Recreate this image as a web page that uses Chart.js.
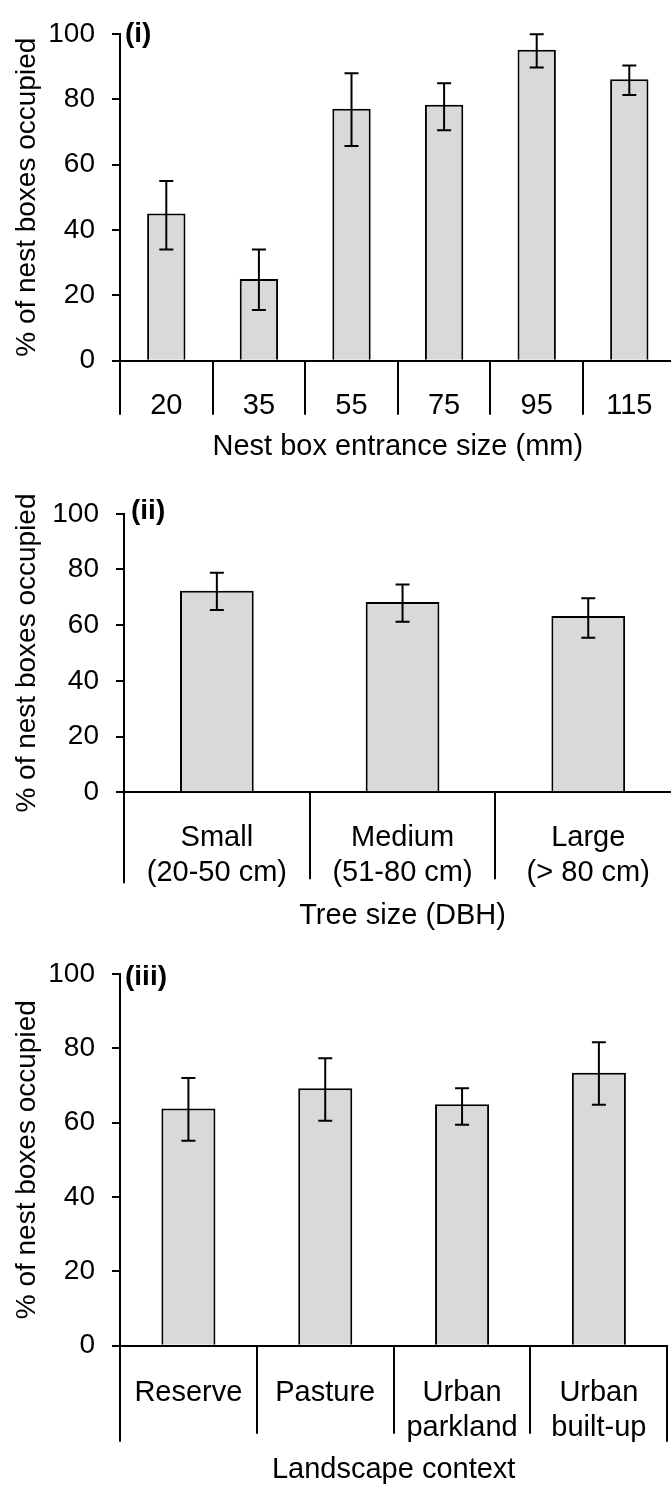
<!DOCTYPE html>
<html>
<head>
<meta charset="utf-8">
<script src="https://cdn.jsdelivr.net/npm/chart.js@4.4.1/dist/chart.umd.min.js"></script>
<style>
  html, body { margin: 0; padding: 0; background: #fff; overflow: hidden; }
  #page { position: relative; width: 671px; height: 1487px; overflow: hidden; }
  canvas { position: absolute; left: 0; }
</style>
</head>
<body>
<div id="page">
  <canvas id="entrance" width="676" height="480" style="top:0px"></canvas>
  <canvas id="tree" width="682" height="480" style="top:480px"></canvas>
  <canvas id="landscape" width="671" height="547" style="top:940px"></canvas>
</div>
<script>
// (i) nest box entrance size
const entranceSizes = ['20', '35', '55', '75', '95', '115'];
const entranceMean = [45, 25, 77.1, 78.3, 95.1, 86.1];
const entranceLow = [34, 15.5, 65.7, 70.5, 89.7, 81.3];
const entranceHigh = [55, 34, 87.9, 84.9, 99.9, 90.3];

// (ii) tree size
const treeSizes = [['Small', '(20-50 cm)'], ['Medium', '(51-80 cm)'], ['Large', '(> 80 cm)']];
const treeMean = [72.4, 68.3, 63.3];
const treeLow = [65.5, 61.2, 55.5];
const treeHigh = [78.8, 74.6, 69.7];

// (iii) landscape context
const contexts = ['Reserve', 'Pasture', ['Urban', 'parkland'], ['Urban', 'built-up']];
const contextMean = [63.8, 69.2, 64.9, 73.4];
const contextLow = [55.1, 60.5, 59.4, 64.8];
const contextHigh = [72.0, 77.3, 69.2, 81.6];

const yLabel = '% of nest boxes occupied';

Chart.defaults.font.family = "'Liberation Sans', Arial, sans-serif";
Chart.defaults.font.size = 28;
Chart.defaults.color = '#000';

// error bars, panel tag and the category dividers under the axis
const panelExtras = {
  id: 'panelExtras',
  afterDatasetsDraw(chart, args, opts) {
    const ctx = chart.ctx;
    const y = chart.scales.y;
    const meta = chart.getDatasetMeta(0);
    ctx.save();
    ctx.strokeStyle = '#000';
    ctx.lineWidth = 2;
    meta.data.forEach((bar, i) => {
      const top = y.getPixelForValue(opts.high[i]);
      const bot = y.getPixelForValue(opts.low[i]);
      ctx.beginPath();
      ctx.moveTo(bar.x, top);
      ctx.lineTo(bar.x, bot);
      ctx.moveTo(bar.x - 7, top);
      ctx.lineTo(bar.x + 7, top);
      ctx.moveTo(bar.x - 7, bot);
      ctx.lineTo(bar.x + 7, bot);
      ctx.stroke();
    });
    ctx.restore();
  },
  afterDraw(chart, args, opts) {
    const ctx = chart.ctx;
    const x = chart.scales.x;
    const area = chart.chartArea;
    const n = chart.data.labels.length;
    ctx.save();
    ctx.strokeStyle = '#000';
    ctx.lineWidth = 2;
    for (let i = 0; i <= n; i++) {
      const px = Math.round(x.getPixelForValue(i - 0.5));
      const depth = (i === 0 || i === n) ? opts.edgeDepth : opts.dividerDepth;
      ctx.beginPath();
      ctx.moveTo(px, area.bottom);
      ctx.lineTo(px, area.bottom + depth);
      ctx.stroke();
    }
    ctx.font = "bold 28px 'Liberation Sans', Arial, sans-serif";
    ctx.fillStyle = '#000';
    ctx.textAlign = 'left';
    ctx.textBaseline = 'middle';
    ctx.fillText(opts.tag, area.left + opts.tagDx, area.top + opts.tagDy);
    ctx.restore();
  }
};

function makePanel(id, labels, mean, low, high, cfg) {
  return new Chart(document.getElementById(id), {
    type: 'bar',
    data: {
      labels: labels,
      datasets: [{
        data: mean,
        backgroundColor: '#d9d9d9',
        borderColor: '#000',
        borderWidth: 2,
        barPercentage: cfg.barPct,
        categoryPercentage: 1
      }]
    },
    options: {
      responsive: false,
      animation: false,
      layout: { padding: { top: cfg.padTop, right: cfg.padRight, left: 0, bottom: 0 } },
      plugins: {
        legend: { display: false },
        tooltip: { enabled: false },
        panelExtras: {
          low: low, high: high, tag: cfg.tag,
          tagDx: cfg.tagDx, tagDy: cfg.tagDy,
          dividerDepth: cfg.dividerDepth, edgeDepth: cfg.edgeDepth
        }
      },
      scales: {
        x: {
          offset: true,
          grid: { display: false },
          border: { display: true, color: '#000', width: 2 },
          ticks: { padding: cfg.labelPad, maxRotation: 0, autoSkip: false, font: { size: 29, lineHeight: 1.2 } },
          title: {
            display: true,
            text: cfg.title,
            font: { size: 29, lineHeight: 1.2 },
            padding: { top: 0, bottom: cfg.titlePad }
          },
          afterFit: (s) => { s.height = cfg.xHeight; }
        },
        y: {
          min: 0,
          max: 100,
          grid: { display: true, drawOnChartArea: false, drawTicks: true, tickLength: 8, color: '#000', lineWidth: 2 },
          border: { display: true, color: '#000', width: 2 },
          ticks: { stepSize: 20, padding: 17, font: { size: 28 } },
          title: {
            display: true,
            text: yLabel,
            font: { size: 28, lineHeight: 1.2 },
            padding: { top: 10, bottom: 0 }
          },
          afterFit: (s) => { s.width = cfg.yWidth; }
        }
      }
    },
    plugins: [panelExtras]
  });
}

makePanel('entrance', entranceSizes, entranceMean, entranceLow, entranceHigh, {
  title: 'Nest box entrance size (mm)', tag: '(i)', tagDx: 5, tagDy: 0,
  padTop: 27.3, padRight: 0.4, yWidth: 120, xHeight: 119.3,
  barPct: 0.414, labelPad: 20.2, titlePad: 16,
  dividerDepth: 54, edgeDepth: 54
});

makePanel('tree', treeSizes, treeMean, treeLow, treeHigh, {
  title: 'Tree size (DBH)', tag: '(ii)', tagDx: 7, tagDy: -3,
  padTop: 29.3, padRight: 0.9, yWidth: 124, xHeight: 167.7,
  barPct: 0.397, labelPad: 20.3, titlePad: 26.5,
  dividerDepth: 87, edgeDepth: 91
});

makePanel('landscape', contexts, contextMean, contextLow, contextHigh, {
  title: 'Landscape context', tag: '(iii)', tagDx: 5, tagDy: 3,
  padTop: 30, padRight: 3.7, yWidth: 120, xHeight: 141.3,
  barPct: 0.395, labelPad: 21.9, titlePad: 0,
  dividerDepth: 88, edgeDepth: 96
});
</script>
</body>
</html>
